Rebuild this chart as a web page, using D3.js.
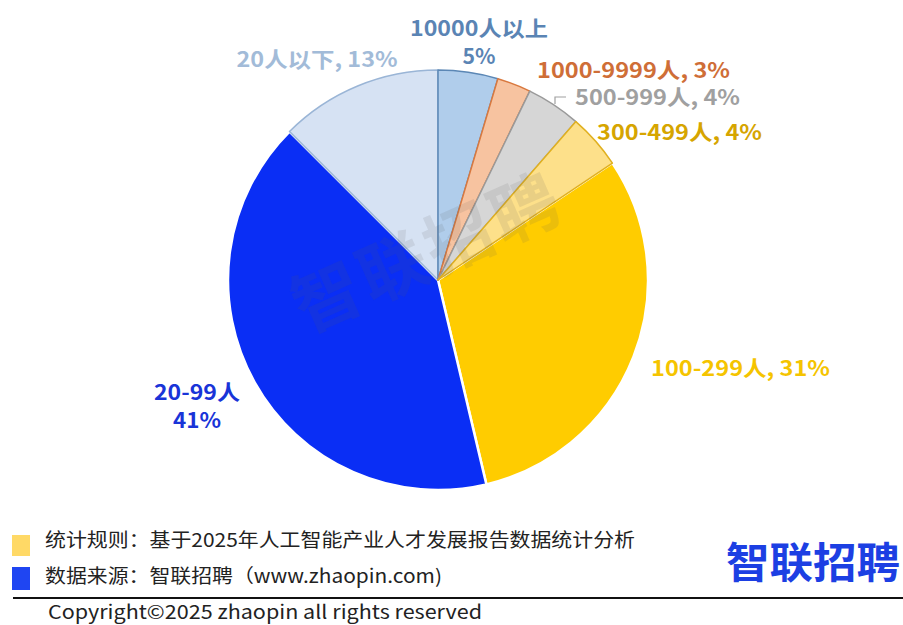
<!DOCTYPE html>
<html>
<head>
<meta charset="utf-8">
<script src="https://cdn.jsdelivr.net/npm/d3@7"></script>
<style>
  body { margin: 0; background: #fff; }
  svg { display: block; font-family: "Noto Sans CJK SC", "Noto Sans", sans-serif; }
</style>
</head>
<body>
<div id="container"></div>
<script>
let w = 903;
let h = 625;

// data, clockwise from 12 o'clock
const categories = ["10000人以上", "1000-9999人", "500-999人", "300-499人", "100-299人", "20-99人", "20人以下"];
const values = [4.6, 2.6, 4.2, 4.2, 30.7, 41.2, 12.5];
const pctLabels = ["5%", "3%", "4%", "4%", "31%", "41%", "13%"];

// colours per slice: [inner, outer, stroke, label]
const sliceColors = [
  ["#5e93cc", "#b0cdeb", "#5b87b5", "#5a84b4"],
  ["#ec8546", "#f7c3a0", "#d9793f", "#cf6e37"],
  ["#a0a0a0", "#d6d6d6", "#9a9a9a", "#a0a0a0"],
  ["#efbd2c", "#fde08a", "#e0b020", "#d6a500"],
  ["#ffcc00", "#ffcc00", "#ffffff", "#f5c400"],
  ["#0a2ef5", "#0a2ef5", "#ffffff", "#1934d8"],
  ["#a9c2e2", "#d6e2f3", "#9ab5d6", "#a2bbd8"]
];

const cx = 438, cy = 280, r = 210;

let svg = d3.select("div#container").append("svg")
  .attr("width", w).attr("height", h)
  .attr("viewBox", "0 0 " + w + " " + h);

let defs = svg.append("defs");
sliceColors.forEach((c, i) => {
  let g = defs.append("radialGradient")
    .attr("id", "grad" + i)
    .attr("gradientUnits", "userSpaceOnUse")
    .attr("cx", cx).attr("cy", cy).attr("r", r);
  g.append("stop").attr("offset", "0%").attr("stop-color", c[0]);
  g.append("stop").attr("offset", "100%").attr("stop-color", c[1]);
});

let pie = d3.pie().sort(null).value(d => d);
let arc = d3.arc().innerRadius(0).outerRadius(r);
let arcs = pie(values);

let pieG = svg.append("g").attr("transform", "translate(" + cx + "," + cy + ")");

// draw the flat big slices first, then the lighter ones on top
let order = [4, 5, 6, 0, 1, 2, 3];
pieG.selectAll("path")
  .data(order.map(i => ({a: arcs[i], i: i})))
  .enter()
  .append("path")
  .attr("d", d => arc(d.a))
  .attr("fill", d => "url(#grad" + d.i + ")")
  .attr("stroke", d => sliceColors[d.i][2])
  .attr("stroke-width", d => (d.i === 4 || d.i === 5) ? 2.5 : 1.5)
  .attr("stroke-linejoin", "round");

// watermark
svg.append("text")
  .attr("transform", "translate(430,258) rotate(-24)")
  .attr("text-anchor", "middle")
  .attr("dominant-baseline", "middle")
  .attr("font-size", 68)
  .attr("font-weight", "bold")
  .attr("fill", "rgba(90,90,90,0.12)")
  .attr("letter-spacing", 4)
  .text("智联招聘");

// data labels (each line: text, width)
const labelPos = [
  {x: 479, y: 36, anchor: "middle", lines: [[categories[0], 138], [pctLabels[0], 33]]},
  {x: 537, y: 78, anchor: "start", lines: [[categories[1] + ", " + pctLabels[1], 193]]},
  {x: 575, y: 105, anchor: "start", lines: [[categories[2] + ", " + pctLabels[2], 165]]},
  {x: 597, y: 140, anchor: "start", lines: [[categories[3] + ", " + pctLabels[3], 165]]},
  {x: 651, y: 376, anchor: "start", lines: [[categories[4] + ", " + pctLabels[4], 179]]},
  {x: 197, y: 400, anchor: "middle", lines: [[categories[5], 86], [pctLabels[5], 48]]},
  {x: 317, y: 67, anchor: "middle", lines: [[categories[6] + ", " + pctLabels[6], 161]]}
];

let labels = svg.append("g").selectAll("text")
  .data(labelPos)
  .enter()
  .append("text")
  .attr("x", d => d.x)
  .attr("y", d => d.y)
  .attr("text-anchor", d => d.anchor)
  .attr("font-size", 21)
  .attr("font-weight", "bold")
  .attr("fill", (d, i) => sliceColors[i][3]);
labels.selectAll("tspan")
  .data(d => d.lines.map(t => ({t: t[0], len: t[1], x: d.x})))
  .enter()
  .append("tspan")
  .attr("x", d => d.x)
  .attr("dy", (d, j) => j === 0 ? 0 : 28)
  .attr("textLength", d => d.len)
  .attr("lengthAdjust", "spacingAndGlyphs")
  .text(d => d.t);

// leader line for 500-999
svg.append("path")
  .attr("d", "M555,104 L555,97 L566,97")
  .attr("fill", "none")
  .attr("stroke", "#a0a0a0")
  .attr("stroke-width", 1.2);

// legend / notes
const notes = [
  {color: "#ffd966", y: 535, h: 21, text: "统计规则：基于2025年人工智能产业人才发展报告数据统计分析", tl: 590, ty: 547},
  {color: "#1f45f2", y: 567, h: 23, text: "数据来源：智联招聘（www.zhaopin.com)", tl: 397, ty: 583}
];
notes.forEach(n => {
  svg.append("rect").attr("x", 12).attr("y", n.y).attr("width", 18).attr("height", n.h).attr("fill", n.color);
  svg.append("text")
    .attr("x", 45).attr("y", n.ty)
    .attr("font-size", 19)
    .attr("fill", "#222")
    .attr("textLength", n.tl)
    .attr("lengthAdjust", "spacingAndGlyphs")
    .text(n.text);
});

// logo
svg.append("text")
  .attr("x", 726).attr("y", 578)
  .attr("font-size", 42)
  .attr("font-weight", "bold")
  .attr("fill", "#1c3fe3")
  .attr("textLength", 174)
  .attr("lengthAdjust", "spacingAndGlyphs")
  .text("智联招聘");

svg.append("line")
  .attr("x1", 13).attr("x2", w).attr("y1", 598).attr("y2", 598)
  .attr("stroke", "#111").attr("stroke-width", 2);

svg.append("text")
  .attr("x", 48).attr("y", 619)
  .attr("font-size", 19)
  .attr("fill", "#222")
  .attr("textLength", 434)
  .attr("lengthAdjust", "spacingAndGlyphs")
  .text("Copyright©2025 zhaopin all rights reserved");
</script>
</body>
</html>
